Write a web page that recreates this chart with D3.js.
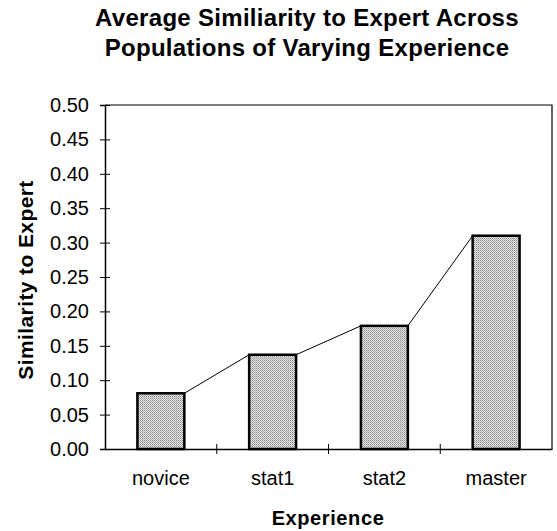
<!DOCTYPE html>
<html>
<head>
<meta charset="utf-8">
<script src="https://cdn.jsdelivr.net/npm/d3@7"></script>
<style>
  body { margin: 0; background: #fff; }
  text { font-family: "Liberation Sans", Arial, sans-serif; fill: #000; }
</style>
</head>
<body>
<div id="chart"></div>
<script>
// data
var categories = ["novice", "stat1", "stat2", "master"];
var values = [0.081, 0.137, 0.179, 0.310];
var yTicks = [0, 0.05, 0.10, 0.15, 0.20, 0.25, 0.30, 0.35, 0.40, 0.45, 0.50];
var titleLines = ["Average Similiarity to Expert Across", "Populations of Varying Experience"];

var width = 557,
    height = 531,
    margin = ({ top: 105, right: 5, bottom: 82, left: 105 });

var svg = d3.select("#chart").append("svg")
    .attr("width", width)
    .attr("height", height);

// dithered grey fill like the old print
var defs = svg.append("defs");
var pat = defs.append("pattern")
    .attr("id", "dither")
    .attr("patternUnits", "userSpaceOnUse")
    .attr("width", 2).attr("height", 2);
pat.append("rect").attr("width", 2).attr("height", 2).attr("fill", "#e4e4e4");
pat.append("rect").attr("width", 1).attr("height", 1).attr("fill", "#8a8a8a");
pat.append("rect").attr("x", 1).attr("y", 1).attr("width", 1).attr("height", 1).attr("fill", "#b0b0b0");

var x = d3.scaleBand()
    .domain(categories)
    .range([margin.left, width - margin.right])
    .paddingInner(0.58)
    .paddingOuter(0.29);

var y = d3.scaleLinear()
    .domain([0, 0.5])
    .range([height - margin.bottom, margin.top]);

// title
svg.append("g").selectAll("text")
    .data(titleLines)
    .join("text")
    .attr("x", 307)
    .attr("y", (d, i) => 26 + i * 30)
    .attr("text-anchor", "middle")
    .style("font-size", "24px")
    .style("font-weight", "bold")
    .style("letter-spacing", "0.3px")
    .text(d => d);

// plot frame (top and right)
svg.append("path")
    .attr("fill", "none")
    .attr("stroke", "#000")
    .attr("stroke-width", 1.2)
    .attr("d", `M${margin.left},${y(0.5)}H${width - margin.right}V${y(0)}`);

// y axis
var yAxis = svg.append("g")
    .attr("transform", `translate(${margin.left},0)`)
    .call(d3.axisLeft(y).tickValues(yTicks).tickFormat(d3.format(".2f")).tickSize(5).tickPadding(11));
yAxis.select(".domain").attr("stroke-width", 1.5);
yAxis.selectAll(".tick line").clone().attr("x2", 5);
yAxis.selectAll("text").style("font-size", "20px");

// x axis with ticks between categories
var xAxis = svg.append("g")
    .attr("transform", `translate(0,${y(0)})`)
    .call(d3.axisBottom(x).tickSize(0).tickPadding(22));
xAxis.select(".domain").attr("stroke-width", 1.5);
xAxis.selectAll("text").style("font-size", "20px");

var step = x.step();
var bounds = categories.slice(1).map(c => x(c) - x.paddingInner() * step / 2);
xAxis.selectAll(".sep")
    .data(bounds)
    .join("line")
    .attr("class", "sep")
    .attr("x1", d => d).attr("x2", d => d)
    .attr("y1", -5).attr("y2", 5)
    .attr("stroke", "#000");

// connecting line from bar corner to next bar corner
var linePts = [];
categories.forEach((c, i) => {
    linePts.push([x(c), y(values[i])]);
    linePts.push([x(c) + x.bandwidth(), y(values[i])]);
});
svg.append("path")
    .datum(linePts.slice(1, -1))
    .attr("fill", "none")
    .attr("stroke", "#000")
    .attr("stroke-width", 1)
    .attr("d", function(pts) {
        var d = "";
        for (var k = 0; k < pts.length; k += 2) d += `M${pts[k]}L${pts[k + 1]}`;
        return d;
    });

// bars
svg.append("g").selectAll("rect")
    .data(values)
    .join("rect")
    .attr("x", (d, i) => x(categories[i]))
    .attr("y", d => y(d))
    .attr("width", x.bandwidth())
    .attr("height", d => y(0) - y(d))
    .attr("fill", "url(#dither)")
    .attr("stroke", "#000")
    .attr("stroke-width", 2.5);

// axis titles
svg.append("text")
    .attr("x", 328)
    .attr("y", 525)
    .attr("text-anchor", "middle")
    .style("font-size", "20px")
    .style("font-weight", "bold")
    .style("letter-spacing", "0.6px")
    .text("Experience");

svg.append("text")
    .attr("transform", `translate(33,280) rotate(-90)`)
    .attr("text-anchor", "middle")
    .style("font-size", "21px")
    .style("font-weight", "bold")
    .style("letter-spacing", "0.4px")
    .text("Similarity to Expert");
</script>
</body>
</html>
